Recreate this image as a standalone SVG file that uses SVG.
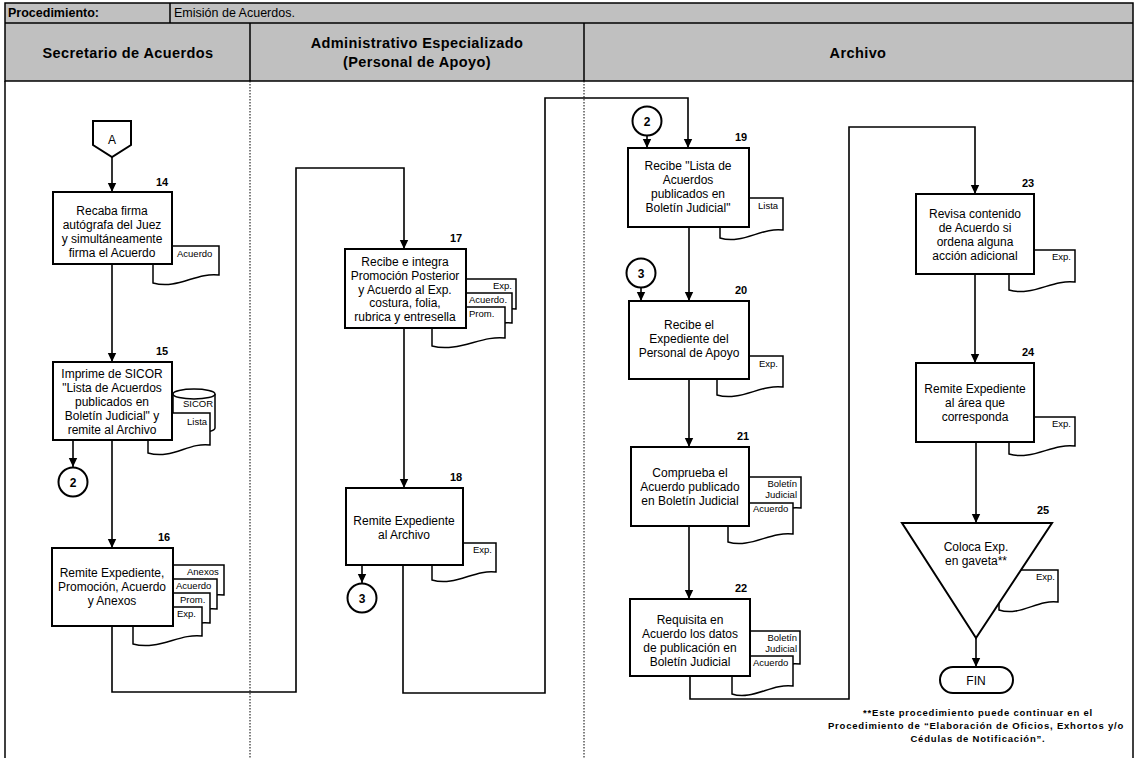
<svg xmlns="http://www.w3.org/2000/svg" width="1136" height="758" viewBox="0 0 1136 758">
<defs>
<marker id="arr" markerUnits="userSpaceOnUse" markerWidth="10" markerHeight="10" refX="9" refY="5" orient="auto">
<path d="M0,0.8 L9,5 L0,9.2 z" fill="#000"/>
</marker>
<style>
.t{font-family:"Liberation Sans",Arial,sans-serif;font-size:12px;fill:#000;text-anchor:middle}
.n{font-family:"Liberation Sans",Arial,sans-serif;font-size:11px;font-weight:bold;fill:#000}
.d{font-family:"Liberation Sans",Arial,sans-serif;font-size:9.5px;fill:#000}
.h{font-family:"Liberation Sans",Arial,sans-serif;font-size:14.5px;font-weight:bold;fill:#000;text-anchor:middle;letter-spacing:0.4px}
.box{fill:#fff;stroke:#000;stroke-width:2}
.doc{fill:#fff;stroke:#000;stroke-width:1.5}
.c{fill:none;stroke:#000;stroke-width:1.6}
.ca{fill:none;stroke:#000;stroke-width:1.6;marker-end:url(#arr)}
.lane{stroke:#000;stroke-width:1;stroke-dasharray:1.5,1.5}
</style>
</defs>
<rect width="1136" height="758" fill="#fff"/>
<g id="header">
<rect x="5" y="3" width="1128" height="78" fill="#c0c0c0" stroke="#000" stroke-width="1.5"/>
<line x1="5" y1="23" x2="1133" y2="23" stroke="#000" stroke-width="1.5"/>
<line x1="170" y1="3" x2="170" y2="23" stroke="#000" stroke-width="1.5"/>
<line x1="250" y1="23" x2="250" y2="81" stroke="#000" stroke-width="1.5"/>
<line x1="584" y1="23" x2="584" y2="81" stroke="#000" stroke-width="1.5"/>
<text x="8" y="17" font-family="Liberation Sans, Arial, sans-serif" font-size="12.5" font-weight="bold">Procedimiento:</text>
<text x="174" y="17" font-family="Liberation Sans, Arial, sans-serif" font-size="12.5">Emisión de Acuerdos.</text>
<text class="h" x="128" y="58">Secretario de Acuerdos</text>
<text class="h" x="417" y="48">Administrativo Especializado</text>
<text class="h" x="417" y="67">(Personal de Apoyo)</text>
<text class="h" x="858" y="58">Archivo</text>
</g>
<g id="lanes">
<line x1="5" y1="81" x2="5" y2="758" stroke="#000" stroke-width="1.5"/>
<line x1="1133" y1="81" x2="1133" y2="758" stroke="#000" stroke-width="1.5"/>
<line class="lane" x1="250" y1="81" x2="250" y2="758"/>
<line class="lane" x1="584" y1="81" x2="584" y2="758"/>
</g>
<g id="connectors">
<path class="ca" d="M112,157 V192"/>
<path class="ca" d="M112,264 V362"/>
<path class="ca" d="M73,440 V467"/>
<path class="ca" d="M112,440 V548"/>
<path class="ca" d="M112,626 V692 H296 V168 H404 V249"/>
<path class="ca" d="M404,328 V488"/>
<path class="ca" d="M362,565 V583"/>
<path class="ca" d="M403,565 V693 H545 V98 H688 V148"/>
<path class="ca" d="M647,135 V148"/>
<path class="ca" d="M689,227 V301"/>
<path class="ca" d="M641,287 V301"/>
<path class="ca" d="M689,379 V447"/>
<path class="ca" d="M689,526 V599"/>
<path class="ca" d="M690,676 V699 H849 V127 H975 V194"/>
<path class="ca" d="M975,274 V363"/>
<path class="ca" d="M976,442 V523"/>
<path class="ca" d="M976,638 V667"/>
</g>
<g id="nA">
<path class="box" d="M93,121 H131 V145 L112,157 L93,145 Z"/>
<text class="t" x="112" y="144">A</text>
</g>
<g id="n14">
<path class="doc" d="M153,246 H219 V275 C196,272 178,290 153,283 Z"/>
<text class="d" x="177" y="257">Acuerdo</text>
<rect class="box" x="53" y="192" width="119" height="72"/>
<text class="n" x="156" y="186">14</text>
<text class="t" x="112" y="215">Recaba firma</text>
<text class="t" x="112" y="229">autógrafa del Juez</text>
<text class="t" x="112" y="243">y simultáneamente</text>
<text class="t" x="112" y="257">firma el Acuerdo</text>
</g>
<g id="n15">
<path class="doc" d="M173,394 A21,5 0 0 1 215,394 V428 A21,5 0 0 1 173,428 Z"/>
<path class="doc" d="M173,394 A21,5 0 0 0 215,394"/>
<text class="d" x="183" y="407">SICOR</text>
<path class="doc" d="M148,413 H210 V445 C189,442 172,460 148,453 Z"/>
<text class="d" x="187" y="425">Lista</text>
<rect class="box" x="53" y="362" width="119" height="78"/>
<text class="n" x="156" y="355">15</text>
<text class="t" x="112" y="378">Imprime de SICOR</text>
<text class="t" x="112" y="392">"Lista de Acuerdos</text>
<text class="t" x="112" y="406">publicados en</text>
<text class="t" x="112" y="420">Boletín Judicial" y</text>
<text class="t" x="112" y="434">remite al Archivo</text>
</g>
<g id="c2a">
<circle cx="73" cy="482" r="14.5" fill="#fff" stroke="#000" stroke-width="2"/>
<text class="t" x="73" y="487" font-weight="bold">2</text>
</g>
<g id="n16">
<path class="doc" d="M154,565 H224 V595 C202,592 180,610 154,603 Z"/>
<text class="d" x="187" y="575">Anexos</text>
<path class="doc" d="M147,579 H217 V609 C195,606 173,624 147,617 Z"/>
<text class="d" x="176" y="589">Acuerdo</text>
<path class="doc" d="M140,593 H210 V623 C188,620 166,638 140,631 Z"/>
<text class="d" x="180" y="603">Prom.</text>
<path class="doc" d="M133,607 H202 V636 C180,633 158,651 133,644 Z"/>
<text class="d" x="177" y="617">Exp.</text>
<rect class="box" x="52" y="548" width="121" height="78"/>
<text class="n" x="158" y="541">16</text>
<text class="t" x="112" y="577">Remite Expediente,</text>
<text class="t" x="112" y="591">Promoción, Acuerdo</text>
<text class="t" x="112" y="605">y Anexos</text>
</g>
<g id="n17">
<path class="doc" d="M447,279 H516 V309 C494,306 472,324 447,317 Z"/>
<text class="d" x="493" y="289">Exp.</text>
<path class="doc" d="M440,293 H512 V323 C490,320 466,338 440,331 Z"/>
<text class="d" x="469" y="303">Acuerdo.</text>
<path class="doc" d="M432,307 H505 V338 C482,335 458,353 432,346 Z"/>
<text class="d" x="469" y="317">Prom.</text>
<rect class="box" x="345" y="249" width="121" height="79"/>
<text class="n" x="450" y="242">17</text>
<text class="t" x="405" y="266">Recibe e integra</text>
<text class="t" x="405" y="280">Promoción Posterior</text>
<text class="t" x="405" y="294">y Acuerdo al Exp.</text>
<text class="t" x="405" y="307">costura, folia,</text>
<text class="t" x="405" y="321">rubrica y entresella</text>
</g>
<g id="n18">
<path class="doc" d="M432,543 H496 V572 C475,569 455,587 432,580 Z"/>
<text class="d" x="473" y="553">Exp.</text>
<rect class="box" x="346" y="488" width="117" height="77"/>
<text class="n" x="450" y="481">18</text>
<text class="t" x="404" y="525">Remite Expediente</text>
<text class="t" x="404" y="539">al Archivo</text>
</g>
<g id="c3a">
<circle cx="362" cy="598" r="14.5" fill="#fff" stroke="#000" stroke-width="2"/>
<text class="t" x="362" y="603" font-weight="bold">3</text>
</g>
<g id="c2b">
<circle cx="647" cy="121" r="14.5" fill="#fff" stroke="#000" stroke-width="2"/>
<text class="t" x="647" y="126" font-weight="bold">2</text>
</g>
<g id="n19">
<path class="doc" d="M720,198 H783 V230 C762,227 742,245 720,238 Z"/>
<text class="d" x="758" y="209">Lista</text>
<rect class="box" x="628" y="148" width="121" height="79"/>
<text class="n" x="735" y="141">19</text>
<text class="t" x="688" y="170">Recibe "Lista de</text>
<text class="t" x="688" y="184">Acuerdos</text>
<text class="t" x="688" y="198">publicados en</text>
<text class="t" x="688" y="212">Boletín Judicial"</text>
</g>
<g id="c3b">
<circle cx="641" cy="273" r="14.5" fill="#fff" stroke="#000" stroke-width="2"/>
<text class="t" x="641" y="278" font-weight="bold">3</text>
</g>
<g id="n20">
<path class="doc" d="M717,356 H783 V387 C761,384 740,402 717,395 Z"/>
<text class="d" x="759" y="367">Exp.</text>
<rect class="box" x="629" y="301" width="120" height="78"/>
<text class="n" x="735" y="294">20</text>
<text class="t" x="689" y="329">Recibe el</text>
<text class="t" x="689" y="343">Expediente del</text>
<text class="t" x="689" y="357">Personal de Apoyo</text>
</g>
<g id="n21">
<path class="doc" d="M735,477 H801 V508 C780,505 758,523 735,516 Z"/>
<text class="d" x="797" y="487" text-anchor="end">Boletín</text>
<text class="d" x="797" y="498" text-anchor="end">Judicial</text>
<path class="doc" d="M728,503 H793 V534 C771,531 750,549 728,542 Z"/>
<text class="d" x="753" y="512">Acuerdo</text>
<rect class="box" x="631" y="447" width="118" height="79"/>
<text class="n" x="737" y="440">21</text>
<text class="t" x="690" y="477">Comprueba el</text>
<text class="t" x="690" y="491">Acuerdo  publicado</text>
<text class="t" x="690" y="505">en Boletín  Judicial</text>
</g>
<g id="n22">
<path class="doc" d="M738,631 H800 V664 C779,661 759,679 738,672 Z"/>
<text class="d" x="797" y="641" text-anchor="end">Boletín</text>
<text class="d" x="797" y="652" text-anchor="end">Judicial</text>
<path class="doc" d="M732,656 H793 V686 C772,683 752,701 732,694 Z"/>
<text class="d" x="753" y="666">Acuerdo</text>
<rect class="box" x="630" y="599" width="120" height="77"/>
<text class="n" x="735" y="592">22</text>
<text class="t" x="690" y="624">Requisita  en</text>
<text class="t" x="690" y="638">Acuerdo los datos</text>
<text class="t" x="690" y="652">de publicación  en</text>
<text class="t" x="690" y="666">Boletín  Judicial</text>
</g>
<g id="n23">
<path class="doc" d="M1009,250 H1075 V282 C1053,279 1032,297 1009,290 Z"/>
<text class="d" x="1052" y="260">Exp.</text>
<rect class="box" x="916" y="194" width="118" height="80"/>
<text class="n" x="1022" y="187">23</text>
<text class="t" x="975" y="218">Revisa contenido</text>
<text class="t" x="975" y="232">de Acuerdo si</text>
<text class="t" x="975" y="246">ordena alguna</text>
<text class="t" x="975" y="260">acción adicional</text>
</g>
<g id="n24">
<path class="doc" d="M1009,417 H1075 V446 C1053,443 1032,461 1009,454 Z"/>
<text class="d" x="1052" y="427">Exp.</text>
<rect class="box" x="916" y="363" width="118" height="79"/>
<text class="n" x="1022" y="356">24</text>
<text class="t" x="975" y="393">Remite Expediente</text>
<text class="t" x="975" y="407">al área que</text>
<text class="t" x="975" y="421">corresponda</text>
</g>
<g id="n25">
<path class="doc" d="M999,570 H1058 V602 C1038,599 1020,617 999,610 Z"/>
<text class="d" x="1036" y="580">Exp.</text>
<path class="box" d="M902,523 H1052 L976,638 Z"/>
<text class="n" x="1037" y="514">25</text>
<text class="t" x="976" y="551">Coloca  Exp.</text>
<text class="t" x="976" y="565">en gaveta**</text>
</g>
<g id="fin">
<rect class="box" x="940" y="667" width="73" height="26" rx="13"/>
<text class="t" x="976" y="685" font-size="13">FIN</text>
</g>
<g id="note" font-family="Liberation Sans, Arial, sans-serif" font-size="9.5" font-weight="bold" text-anchor="middle" letter-spacing="0.8">
<text x="978" y="716">**Este procedimiento puede continuar en el</text>
<text x="976" y="729">Procedimiento de “Elaboración de Oficios, Exhortos y/o</text>
<text x="978" y="742">Cédulas de Notificación”.</text>
</g>
</svg>
